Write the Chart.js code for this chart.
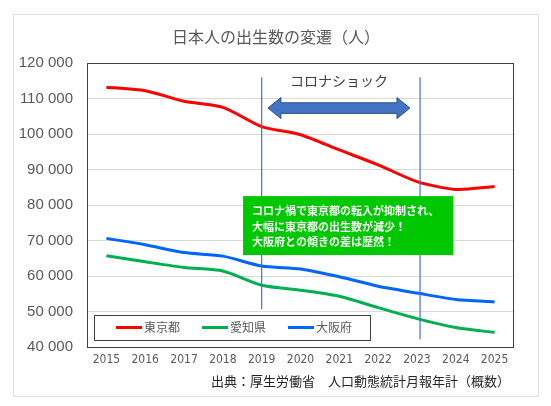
<!DOCTYPE html>
<html>
<head>
<meta charset="utf-8">
<script src="https://cdn.jsdelivr.net/npm/chart.js@4"></script>
<style>
  html, body { margin: 0; padding: 0; background: #fff; }
  canvas { display: block; }
</style>
</head>
<body>
<canvas id="line-chart" width="551" height="406"></canvas>
<script>
var years = ['2015','2016','2017','2018','2019','2020','2021','2022','2023','2024','2025'];
var tokyo = [113200,112200,109200,107500,102100,99800,95500,91300,86600,84400,85200];
var aichi = [65700,64000,62400,61400,57400,56000,54300,51100,48000,45500,44100];
var osaka = [70600,68800,66600,65600,62800,62000,59800,57100,55200,53400,52700];
var seriesNames = ['東京都','愛知県','大阪府'];
var yTicks = [40000,50000,60000,70000,80000,90000,100000,110000,120000];

var titleText = '日本人の出生数の変遷（人）';
var sourceText = '出典：厚生労働省　人口動態統計月報年計（概数）';
var shockText = 'コロナショック';
var noteLines = ['コロナ禍で東京都の転入が抑制され、', '大幅に東京都の出生数が減少！', '大阪府との傾きの差は歴然！'];

var JP = '"Noto Sans CJK JP", "Noto Sans", sans-serif';

function fmt(v) {
  return String(v).replace(/\B(?=(\d{3})+(?!\d))/g, ' ');
}

// frame, title, annotations, legend, source
var decor = {
  id: 'decor',
  beforeDraw: function(chart) {
    var c = chart.ctx;
    c.save();
    c.fillStyle = '#fff';
    c.fillRect(0, 0, chart.width, chart.height);
    c.strokeStyle = '#e0e0e0';
    c.lineWidth = 1;
    c.strokeRect(13.5, 14.5, 525, 382);
    c.fillStyle = '#595959';
    c.font = '16px ' + JP;
    c.textAlign = 'center';
    c.textBaseline = 'middle';
    c.fillText(titleText, 276, 37);
    c.restore();
  },
  afterDraw: function(chart) {
    var c = chart.ctx, a = chart.chartArea;
    var xs = chart.scales.x, ys = chart.scales.y;
    c.save();

    // plot border
    c.strokeStyle = '#404040';
    c.lineWidth = 1;
    c.strokeRect(a.left + 0.5, a.top + 0.5, a.right - a.left - 1, a.bottom - a.top);

    // corona period lines
    c.strokeStyle = '#4472c4';
    c.lineWidth = 1.2;
    c.beginPath();
    c.moveTo(xs.getPixelForValue(4), ys.getPixelForValue(116000));
    c.lineTo(xs.getPixelForValue(4), ys.getPixelForValue(50600));
    c.moveTo(xs.getPixelForValue(8.08), ys.getPixelForValue(116000));
    c.lineTo(xs.getPixelForValue(8.08), ys.getPixelForValue(42200));
    c.stroke();

    // double arrow
    var x0 = xs.getPixelForValue(4.16), x1 = xs.getPixelForValue(7.82);
    var yc = ys.getPixelForValue(107300);
    var hl = 13, hh = 10.5, sh = 5.3;
    c.beginPath();
    c.moveTo(x0, yc);
    c.lineTo(x0 + hl, yc - hh);
    c.lineTo(x0 + hl, yc - sh);
    c.lineTo(x1 - hl, yc - sh);
    c.lineTo(x1 - hl, yc - hh);
    c.lineTo(x1, yc);
    c.lineTo(x1 - hl, yc + hh);
    c.lineTo(x1 - hl, yc + sh);
    c.lineTo(x0 + hl, yc + sh);
    c.lineTo(x0 + hl, yc + hh);
    c.closePath();
    c.fillStyle = '#4472c4';
    c.fill();
    c.strokeStyle = '#2f528f';
    c.lineWidth = 1;
    c.stroke();

    c.fillStyle = '#404040';
    c.font = '14px ' + JP;
    c.textAlign = 'center';
    c.textBaseline = 'middle';
    c.fillText(shockText, (x0 + x1) / 2, ys.getPixelForValue(115000));

    // green note box
    var bx0 = xs.getPixelForValue(3.52), bx1 = xs.getPixelForValue(8.94);
    var by0 = ys.getPixelForValue(82500), by1 = ys.getPixelForValue(65900);
    c.fillStyle = '#00c800';
    c.fillRect(bx0, by0, bx1 - bx0, by1 - by0);
    c.fillStyle = '#fff';
    c.font = 'bold 11px ' + JP;
    c.textAlign = 'left';
    noteLines.forEach(function(t, i) {
      c.fillText(t, bx0 + 9, by0 + 15 + i * 15.5);
    });

    // legend inside plot
    var lx = a.left + 7, ly = a.bottom - 32, lw = 276, lh = 25;
    c.fillStyle = '#fff';
    c.fillRect(lx, ly, lw, lh);
    c.strokeStyle = '#404040';
    c.strokeRect(lx + 0.5, ly + 0.5, lw, lh);
    var offs = [22, 108, 194];
    c.font = '12px ' + JP;
    c.textBaseline = 'middle';
    chart.data.datasets.forEach(function(ds, i) {
      var sx = lx + offs[i], sy = ly + lh / 2;
      c.strokeStyle = ds.borderColor;
      c.lineWidth = 3;
      c.beginPath();
      c.moveTo(sx, sy);
      c.lineTo(sx + 26, sy);
      c.stroke();
      c.fillStyle = '#595959';
      c.fillText(ds.label, sx + 28, sy);
    });

    // source
    c.fillStyle = '#262626';
    c.font = '13px ' + JP;
    c.textAlign = 'right';
    c.fillText(sourceText, 510, 381);
    c.restore();
  }
};

new Chart(document.getElementById('line-chart'), {
  type: 'line',
  data: {
    labels: years,
    datasets: [{
      label: seriesNames[0],
      data: tokyo,
      borderColor: '#ff0000',
      backgroundColor: '#ff0000'
    }, {
      label: seriesNames[1],
      data: aichi,
      borderColor: '#00b050',
      backgroundColor: '#00b050'
    }, {
      label: seriesNames[2],
      data: osaka,
      borderColor: '#0066ff',
      backgroundColor: '#0066ff'
    }]
  },
  options: {
    responsive: false,
    animation: false,
    layout: { padding: { top: 63, left: 10, right: 37, bottom: 29 } },
    elements: {
      line: { borderWidth: 3, tension: 0.25, cubicInterpolationMode: 'default' },
      point: { radius: 0 }
    },
    plugins: {
      legend: { display: false },
      title: { display: false },
      tooltip: { enabled: false }
    },
    scales: {
      x: {
        offset: true,
        grid: { display: false, drawTicks: false },
        border: { display: false },
        ticks: {
          color: '#595959',
          padding: 6,
          maxRotation: 0,
          font: { family: '"Liberation Sans Narrow", "DejaVu Sans Condensed", "Liberation Sans", sans-serif', size: 12 }
        },
        afterFit: function(s) { s.height = 30; }
      },
      y: {
        min: yTicks[0],
        max: yTicks[yTicks.length - 1],
        afterBuildTicks: function(s) {
          s.ticks = yTicks.map(function(v) { return { value: v }; });
        },
        grid: { color: '#d9d9d9', drawTicks: false },
        border: { display: false },
        ticks: {
          color: '#595959',
          padding: 14,
          font: { family: '"Liberation Sans", Arial, sans-serif', size: 15 },
          callback: function(v) { return fmt(v); }
        },
        afterFit: function(s) { s.width = 77; }
      }
    }
  },
  plugins: [decor]
});
</script>
</body>
</html>
